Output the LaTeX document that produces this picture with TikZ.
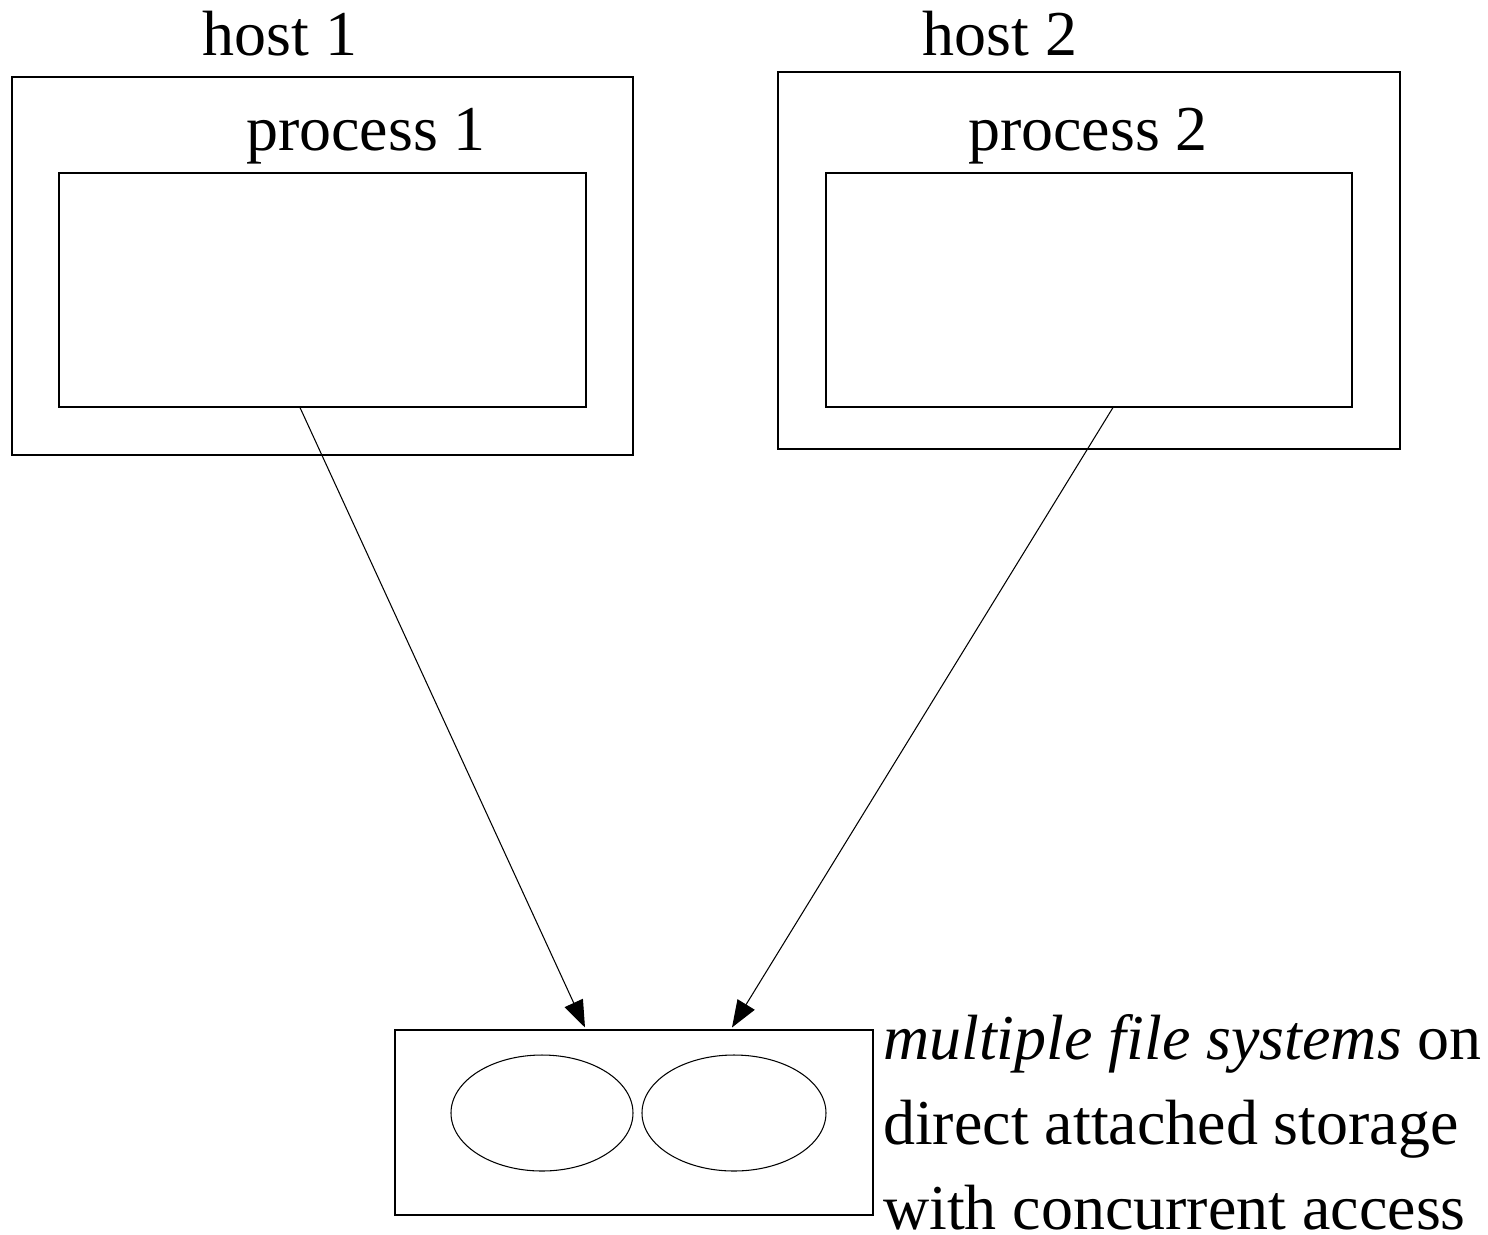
\documentclass[tikz,border=0pt]{standalone}
\usepackage{fontspec}
\setmainfont{Liberation Serif}
\usetikzlibrary{positioning,arrows.meta,shapes.geometric}
\tikzset{
  box/.style = {
    draw, rectangle, inner sep=0pt, line width=0.3pt
  },
  fsys/.style = {
    draw, ellipse, inner sep=0pt, line width=0.3pt
  },
  lbl/.style = {
    anchor=base, inner sep=0pt
  }
}
\tikzset{>={Triangle[length=0.27cm,width=0.2cm]}}

\begin{document}
\begin{tikzpicture}[font=\fontsize{18.2}{24.2}\selectfont]
  \useasboundingbox (0,0) rectangle (14.88,-12.34);
  % hosts
  \node[box,minimum width=6.21cm,minimum height=3.78cm] (host1) at (3.225,-2.66) {};
  \node[box,minimum width=5.27cm,minimum height=2.34cm] (proc1) at (3.225,-2.90) {};
  \node[box,minimum width=6.22cm,minimum height=3.77cm] (host2) at (10.89,-2.605) {};
  \node[box,minimum width=5.26cm,minimum height=2.34cm] (proc2) at (10.89,-2.90) {};
  \node[lbl] (host1lbl) at (2.80,-0.55) {host 1};
  \node[lbl] (host2lbl) at (10.00,-0.55) {host 2};
  \node[lbl] (proc1lbl) at (3.66,-1.50) {process 1};
  \node[lbl] (proc2lbl) at (10.88,-1.50) {process 2};
  % storage
  \node[box,minimum width=4.78cm,minimum height=1.85cm] (store) at (6.34,-11.225) {};
  \node[fsys,minimum width=1.82cm,minimum height=1.16cm] (fsA) at (5.42,-11.13) {};
  \node[fsys,minimum width=1.84cm,minimum height=1.16cm] (fsB) at (7.34,-11.13) {};
  \node[inner sep=0pt,align=left,right=0.09cm of store] (storelbl)
    {\textit{multiple file systems} on\\direct attached storage\\with concurrent access};
  % arrows
  \draw[->,line width=0.3pt] ([xshift=-0.225cm]proc1.south) -- ([xshift=-0.49cm,yshift=0.02cm]store.north);
  \draw[->,line width=0.3pt] ([xshift=0.24cm]proc2.south) -- ([xshift=0.98cm,yshift=0.02cm]store.north);
\end{tikzpicture}
\end{document}
